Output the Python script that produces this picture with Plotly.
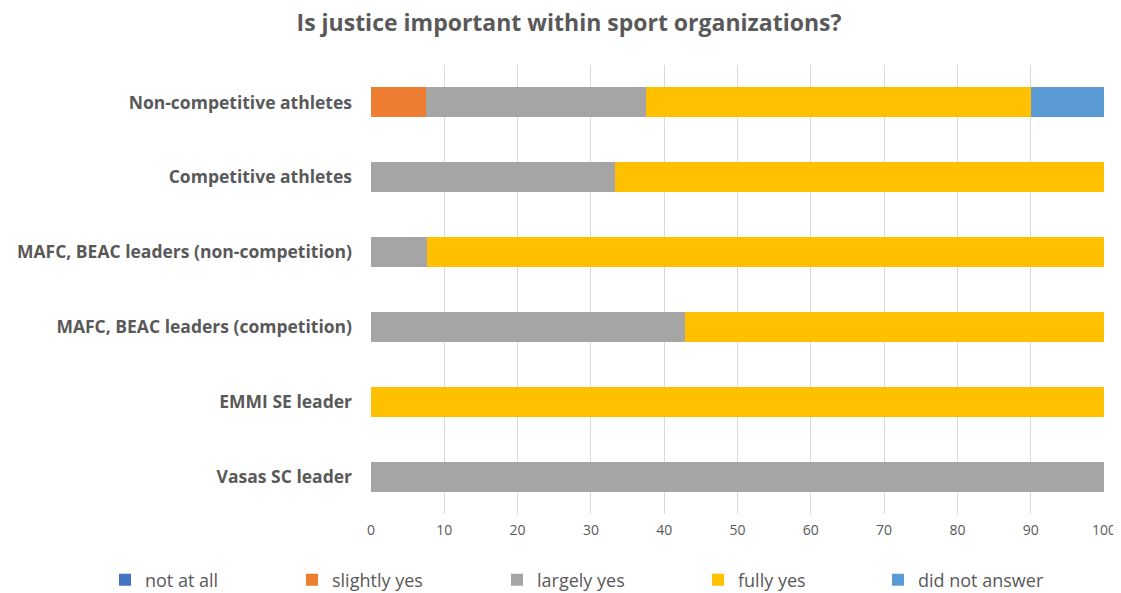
import plotly.graph_objects as go

categories = ["Vasas SC leader", "EMMI SE leader", "MAFC, BEAC leaders (competition)",
              "MAFC, BEAC leaders (non-competition)", "Competitive athletes", "Non-competitive athletes"]
not_at_all = [0, 0, 0, 0, 0, 0]
slightly_yes = [0, 0, 0, 0, 0, 7.5]
largely_yes = [100, 0, 42.86, 7.69, 33.33, 30]
fully_yes = [0, 100, 57.14, 92.31, 66.67, 52.5]
did_not_answer = [0, 0, 0, 0, 0, 10]

series = [
    ("not at all", not_at_all, "#4472C4"),
    ("slightly yes", slightly_yes, "#ED7D31"),
    ("largely yes", largely_yes, "#A5A5A5"),
    ("fully yes", fully_yes, "#FFC000"),
    ("did not answer", did_not_answer, "#5B9BD5"),
]

W, H = 1113, 585
legend_left_px = [97, 284, 489, 690, 870]
legend_x = [p / W for p in legend_left_px]

font_family = "Open Sans, sans-serif"
grey = "#595959"
fig = go.Figure()
legend_ids = ["legend", "legend2", "legend3", "legend4", "legend5"]
for (name, vals, color), lid in zip(series, legend_ids):
    fig.add_trace(go.Bar(y=categories, x=vals, name=name, orientation="h", legend=lid,
                         showlegend=True,
                         marker=dict(color=color, line=dict(width=0))))

legend_layout = {}
for lid, lx in zip(legend_ids, legend_x):
    legend_layout[lid] = dict(orientation="h", xref="container", yref="container",
                              x=lx, xanchor="left", y=1 - 572 / H, yanchor="middle",
                              bgcolor="rgba(0,0,0,0)", visible=True,
                              font=dict(size=18, color=grey, family=font_family))

fig.update_layout(
    barmode="stack",
    bargap=0.6,
    showlegend=True,
    width=W, height=H,
    paper_bgcolor="white", plot_bgcolor="white",
    margin=dict(l=363, r=W - 363 - 733, t=57, b=H - 57 - 449),
    title=dict(text="<b>Is justice important within sport organizations?</b>",
               x=561 / W, xanchor="center", y=1 - 15 / H, yanchor="middle",
               font=dict(family=font_family, size=23, color=grey)),
    font=dict(family=font_family, color=grey),
    xaxis=dict(range=[0, 100], dtick=10, showgrid=True, gridcolor="#D9D9D9", gridwidth=1,
               zeroline=False, tickfont=dict(size=14, color=grey), automargin=False,
               ticklabelstandoff=6, ticklabeloverflow="allow"),
    yaxis=dict(tickfont=dict(size=17.5, color=grey), ticklabelstandoff=18,
               categoryorder="array", categoryarray=categories, automargin=False),
    **legend_layout,
)
fig.update_yaxes(ticktext=["<b>" + c + "</b>" for c in categories], tickvals=categories)

fig.write_html("out.html")
